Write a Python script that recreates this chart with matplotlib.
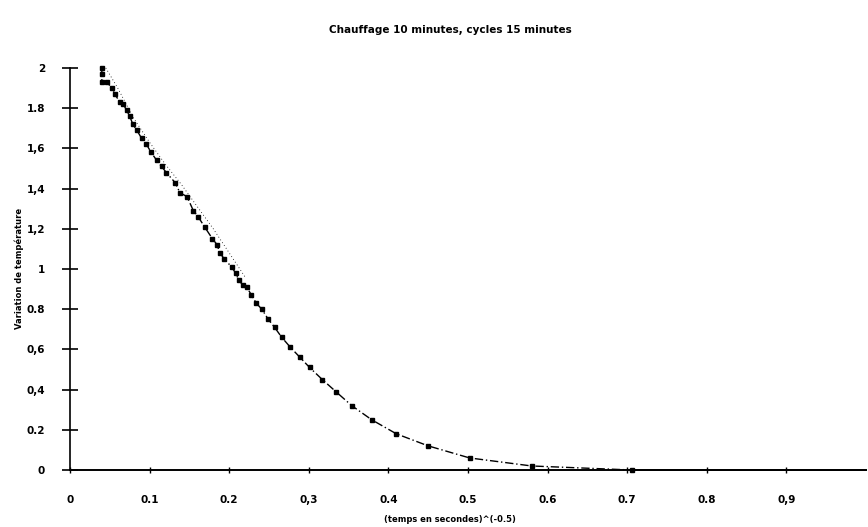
import matplotlib
matplotlib.use("Agg")
import matplotlib.pyplot as plt

# Measured series (squares)
x_meas = [0.040, 0.040, 0.040, 0.046, 0.053, 0.056, 0.063, 0.067, 0.071, 0.075,
          0.079, 0.084, 0.090, 0.096, 0.102, 0.109, 0.115, 0.121, 0.132, 0.138,
          0.147, 0.155, 0.161, 0.169, 0.179, 0.185, 0.188, 0.194, 0.203, 0.208,
          0.212, 0.217, 0.222, 0.228, 0.234, 0.241, 0.249, 0.257, 0.266, 0.277,
          0.289, 0.301, 0.317, 0.334, 0.354, 0.379, 0.410, 0.450, 0.502, 0.580,
          0.706]
y_meas = [2.00, 1.97, 1.93, 1.93, 1.90, 1.87, 1.83, 1.82, 1.79, 1.76,
          1.72, 1.69, 1.65, 1.62, 1.58, 1.54, 1.51, 1.48, 1.43, 1.38,
          1.36, 1.29, 1.26, 1.21, 1.15, 1.12, 1.08, 1.05, 1.01, 0.98,
          0.945, 0.92, 0.91, 0.87, 0.83, 0.80, 0.75, 0.71, 0.66, 0.61,
          0.56, 0.51, 0.45, 0.39, 0.32, 0.25, 0.18, 0.12, 0.06, 0.02,
          0.00]

# Dotted model curve (slightly above the measurements in the upper part)
x_model = [0.045, 0.060, 0.080, 0.100, 0.120, 0.140, 0.160, 0.180, 0.200, 0.220]
y_model = [2.00, 1.90, 1.75, 1.63, 1.52, 1.42, 1.31, 1.20, 1.08, 0.96]

# Tail of the fitted line continuing along zero
x_tail = [0.706, 1.00]
y_tail = [0.0, 0.0]

x_ticks = [0, 0.1, 0.2, 0.3, 0.4, 0.5, 0.6, 0.7, 0.8, 0.9]
x_ticklabels = ['0', '0.1', '0.2', '0,3', '0.4', '0.5', '0.6', '0.7', '0.8', '0,9']
y_ticks = [0, 0.2, 0.4, 0.6, 0.8, 1.0, 1.2, 1.4, 1.6, 1.8, 2.0]
y_ticklabels = ['0', '0.2', '0,4', '0,6', '0.8', '1', '1,2', '1,4', '1,6', '1.8', '2']

title = "Chauffage 10 minutes, cycles 15 minutes"
xlabel = "(temps en secondes)^(-0.5)"
ylabel = "Variation de température"

fig = plt.figure(figsize=(8.68, 5.27), dpi=100)
ax = fig.add_axes([70/868, 57/527, 796/868, 402/527])

ax.plot(x_meas, y_meas, color='black', linestyle=(0, (6, 2, 1, 2)), linewidth=1.0,
        marker='s', markersize=3.2, markerfacecolor='black', markeredgecolor='black',
        clip_on=False, zorder=3)
ax.plot(x_model, y_model, color='black', linestyle=(0, (1, 3)), linewidth=0.6,
        clip_on=False, zorder=2)
ax.plot(x_tail, y_tail, color='black', linestyle='-', linewidth=1.4, clip_on=False, zorder=2)

ax.set_xlim(0, 1.0)
ax.set_ylim(0, 2.0)

ax.spines['top'].set_visible(False)
ax.spines['right'].set_visible(False)
ax.spines['left'].set_linewidth(1.2)
ax.spines['bottom'].set_linewidth(1.4)

ax.set_xticks(x_ticks)
ax.set_xticklabels(x_ticklabels)
ax.set_yticks(y_ticks)
ax.set_yticklabels(y_ticklabels)
ax.tick_params(axis='y', direction='inout', length=12, width=1.2, pad=12,
               labelsize=7.5)
ax.tick_params(axis='x', direction='inout', length=4, width=1.0, pad=16,
               labelsize=7.5)
for lab in ax.get_xticklabels() + ax.get_yticklabels():
    lab.set_fontweight('bold')

fig.text(450/868, 1 - 30/527, title, ha='center', va='center', fontsize=7.5,
         fontweight='bold')
fig.text(450/868, 1 - 519/527, xlabel, ha='center', va='center', fontsize=6,
         fontweight='bold')
fig.text(19/868, 1 - 268/527, ylabel, ha='center', va='center', fontsize=6,
         fontweight='bold', rotation=90)

fig.savefig("out.png", dpi=100)
